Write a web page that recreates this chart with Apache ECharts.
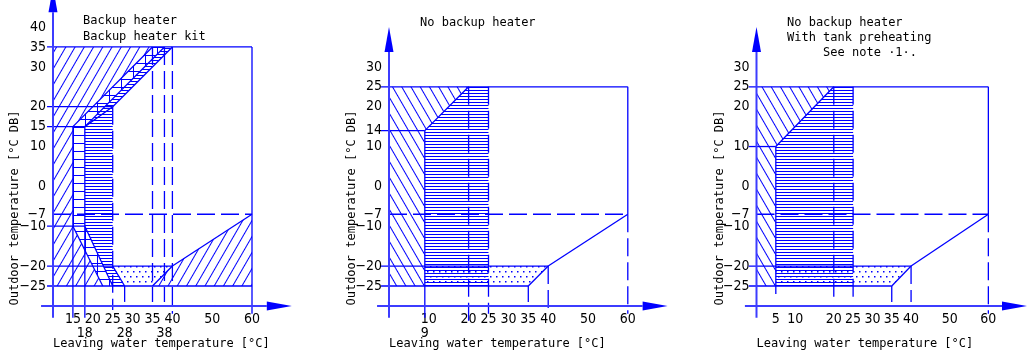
<!DOCTYPE html>
<html>
<head>
<meta charset="utf-8">
<script src="https://cdn.jsdelivr.net/npm/echarts@6/dist/echarts.min.js"></script>
<style>
  html, body { margin: 0; padding: 0; background: #fff; }
  #chart { width: 1027px; height: 355px; }
</style>
</head>
<body>
<div id="chart"></div>
<script>
// ---------------- operating range data (leaving water °C, outdoor °C) ----------------

// Panel 1: backup heater / backup heater kit
const bhYTicks = [40, 35, 30, 20, 15, 10, 0, -7, -10, -20, -25];
const bhXTicks = [15, 20, 25, 30, 35, 40, 50, 60];
const bhXTicks2 = [18, 28, 38];
const bhAxes = [[7, -30, 70, -30], [10, -33, 10, 50]];
const bhHatch = [[10, -25], [10, 35], [35, 35], [15, 15], [15, -10], [22.5, -25]];
const bhHatch2 = [[35, -25], [40, -20], [60, -7], [60, -25]];
const bhGrid = [[22.5, -25], [15, -10], [15, 15], [35, 35], [38, 35], [18, 15], [18, -10], [25, -25]];
const bhLined = [[25, -25], [18, -10], [18, 15], [38, 35], [40, 35], [25, 20], [25, -20], [28, -25]];
const bhDotted = [[25, -20], [40, -20], [35, -25], [28, -25]];
const bhSolid = [
  [8.5, 35, 60, 35], [60, 35, 60, -32], [8.5, -25, 60, -25], [8.5, -20, 40, -20],
  [8.5, 20, 25, 20], [8.5, 15, 18, 15], [8.5, -10, 18, -10],
  [15, 15, 15, -33], [18, 15, 18, -33], [15, -10, 22.5, -25], [18, -10, 25, -25],
  [15, 15, 35, 35], [18, 15, 25, 20], [25, 20, 40, 35], [18, 15, 38, 35],
  [25, -20, 28, -25], [28, -25, 28, -29], [35, -25, 40, -20], [40, -20, 60, -7]
];
const bhDashed = [[10, -7, 60, -7], [25, 20, 25, -31], [35, 35, 35, -29], [38, 35, 38, -29], [40, 35, 40, -32]];

// Panel 2: no backup heater
const nbYTicks = [30, 25, 20, 14, 10, 0, -7, -10, -20, -25];
const nbXTicks = [10, 20, 25, 30, 35, 40, 50, 60];
const nbXTicks2 = [9];
const nbAxes = [[-3, -30, 70, -30], [0, -33, 0, 40]];
const nbHatch = [[0, -25], [0, 25], [20, 25], [9, 14], [9, -25]];
const nbLined = [[9, -25], [9, 14], [20, 25], [25, 25], [25, -25]];
const nbDotted = [[9, -20], [40, -20], [35, -25], [9, -25]];
const nbSolid = [
  [-2, 25, 60, 25], [60, 25, 60, -7], [60, -7, 40, -20], [40, -20, 35, -25],
  [-2, -20, 40, -20], [-2, -25, 35, -25], [-2, 14, 9, 14], [9, 14, 9, -33],
  [9, 14, 20, 25], [35, -25, 35, -29]
];
const nbDashed = [[0, -7, 60, -7], [20, 25, 20, -34], [25, 25, 25, -32], [40, -20, 40, -32], [60, -7, 60, -32]];

// Panel 3: no backup heater, with tank preheating
const tpYTicks = [30, 25, 20, 10, 0, -7, -10, -20, -25];
const tpXTicks = [5, 10, 20, 25, 30, 35, 40, 50, 60];
const tpAxes = [[-3, -30, 70, -30], [0, -33, 0, 40]];
const tpHatch = [[0, -25], [0, 25], [20, 25], [5, 10], [5, -25]];
const tpLined = [[5, -25], [5, 10], [20, 25], [25, 25], [25, -25]];
const tpDotted = [[5, -20], [40, -20], [35, -25], [5, -25]];
const tpSolid = [
  [-2, 25, 60, 25], [60, 25, 60, -7], [60, -7, 40, -20], [40, -20, 35, -25],
  [-2, -20, 40, -20], [-2, -25, 35, -25], [-2, 10, 5, 10], [5, 10, 5, -27],
  [5, 10, 20, 25], [35, -25, 35, -29]
];
const tpDashed = [[0, -7, 60, -7], [20, 25, 20, -29], [25, 25, 25, -29], [40, -20, 40, -29], [60, -7, 60, -32]];

const xTitle = 'Leaving water temperature [°C]';
const yTitle = 'Outdoor temperature [°C DB]';
const bhCaption = ['Backup heater', 'Backup heater kit'];
const nbCaption = ['No backup heater'];
const tpCaption = ['No backup heater', 'With tank preheating', '     See note ·1·.'];

// ---------------- styling ----------------
const BLUE = '#0000ff';
const AXIS_BLUE = '#3c3cff';
const NARROW = '"Liberation Sans Narrow", "DejaVu Sans Condensed", "Liberation Sans", sans-serif';
const MONO = '"DejaVu Sans Mono", "Liberation Mono", monospace';

function tile(w, h, paint) {
  const c = document.createElement('canvas');
  c.width = w; c.height = h;
  const g = c.getContext('2d');
  g.fillStyle = BLUE;
  paint(g);
  return c;
}
const stripeTile = tile(8, 8, g => g.fillRect(0, 0, 1, 8));
const slashFill = { image: stripeTile, repeat: 'repeat', rotation: Math.PI / 6 };
const backFill = { image: stripeTile, repeat: 'repeat', rotation: -Math.PI / 6 };
const lineFill = { image: tile(4, 3, g => g.fillRect(0, 0, 4, 1)), repeat: 'repeat' };
const dotFill = {
  image: tile(12, 10, g => {
    g.fillRect(1, 1, 1.5, 1.5); g.fillRect(7, 1, 1.5, 1.5);
    g.fillRect(4, 6, 1.5, 1.5); g.fillRect(10, 6, 1.5, 1.5);
  }),
  repeat: 'repeat'
};
const gridFill = {
  image: tile(12, 8, g => { g.fillRect(0, 0, 12, 1); g.fillRect(0, 0, 1, 8); }),
  repeat: 'repeat', x: 1, y: 7
};

const fmt = v => String(v).replace('-', '\u2212');

// ---------------- series builders ----------------
function polySeries(gi, pts, fill) {
  return {
    type: 'custom', xAxisIndex: gi, yAxisIndex: gi, data: pts, silent: true, animation: false,
    renderItem(p, api) {
      if (p.dataIndexInside !== 0) return null;
      const points = [];
      for (let i = 0; i < p.dataInsideLength; i++) {
        points.push(api.coord([api.value(0, i), api.value(1, i)]));
      }
      return { type: 'polygon', shape: { points }, style: { fill, stroke: null } };
    }
  };
}
function segSeries(gi, segs, dash, width) {
  return {
    type: 'custom', xAxisIndex: gi, yAxisIndex: gi, data: segs, silent: true, animation: false,
    renderItem(p, api) {
      const a = api.coord([api.value(0), api.value(1)]);
      const b = api.coord([api.value(2), api.value(3)]);
      return {
        type: 'line', shape: { x1: a[0], y1: a[1], x2: b[0], y2: b[1] },
        style: { stroke: BLUE, lineWidth: width, lineDash: dash }
      };
    }
  };
}
function axisSeries(gi, segs) {
  return {
    type: 'custom', xAxisIndex: gi, yAxisIndex: gi, data: segs, silent: true, animation: false,
    renderItem(p, api) {
      const a = api.coord([api.value(0), api.value(1)]);
      const b = api.coord([api.value(2), api.value(3)]);
      const dx = b[0] - a[0], dy = b[1] - a[1], len = Math.hypot(dx, dy);
      const ux = dx / len, uy = dy / len, L = 25, W = 4.5;
      const bx = b[0] - ux * L, by = b[1] - uy * L;
      return {
        type: 'group', children: [
          { type: 'line', shape: { x1: a[0], y1: a[1], x2: bx, y2: by }, style: { stroke: AXIS_BLUE, lineWidth: 2 } },
          { type: 'polygon', shape: { points: [[b[0], b[1]], [bx - uy * W, by + ux * W], [bx + uy * W, by - ux * W]] },
            style: { fill: BLUE } }
        ]
      };
    }
  };
}

// ---------------- axes ----------------
const Y_MIN = -30, Y_MAX = 45;
const gridTop = 7.1, gridH = 298.8, unit = 3.98;
const grids = [
  { left: 53, top: gridTop, width: 60 * unit, height: gridH },
  { left: 389, top: gridTop, width: 70 * unit, height: gridH },
  { left: 756.5, top: gridTop, width: 70 * unit, height: gridH }
];
const labelStyle = { color: '#000', fontFamily: NARROW, fontSize: 14, formatter: fmt };
function xAxisFor(gi, min, vals, margin) {
  return {
    type: 'value', gridIndex: gi, min, max: 70, position: 'bottom',
    axisLine: { show: false }, axisTick: { show: false }, splitLine: { show: false },
    axisLabel: Object.assign({ customValues: vals, margin, showMinLabel: true, showMaxLabel: true }, labelStyle)
  };
}
function yAxisFor(gi, vals) {
  return {
    type: 'value', gridIndex: gi, min: Y_MIN, max: Y_MAX,
    axisLine: { show: false }, axisTick: { show: false }, splitLine: { show: false },
    axisLabel: Object.assign({ customValues: vals, margin: 7 }, labelStyle)
  };
}

// ---------------- captions and axis titles ----------------
function textEl(x, y, text, extra) {
  return Object.assign({
    type: 'text', x, y, silent: true,
    style: Object.assign({ text, font: '12px ' + MONO, fill: '#000', verticalAlign: 'middle' }, (extra || {}).style)
  }, extra ? { rotation: extra.rotation || 0 } : {});
}
const graphics = [];
bhCaption.forEach((t, i) => graphics.push(textEl(83, 21 + i * 16, t)));
nbCaption.forEach((t, i) => graphics.push(textEl(420, 23 + i * 15, t)));
tpCaption.forEach((t, i) => graphics.push(textEl(787, 23 + i * 15, t)));
[53, 389, 756.5].forEach(x => graphics.push(textEl(x, 344, xTitle)));
[15, 352, 720].forEach(x => graphics.push(textEl(x, 208, yTitle, { rotation: Math.PI / 2, style: { align: 'center' } })));

const chart = echarts.init(document.getElementById('chart'), null, { renderer: 'canvas' });
chart.setOption({
  animation: false,
  backgroundColor: '#fff',
  grid: grids,
  xAxis: [
    xAxisFor(0, 10, bhXTicks, 6), xAxisFor(1, 0, nbXTicks, 6), xAxisFor(2, 0, tpXTicks, 6),
    xAxisFor(0, 10, bhXTicks2, 20), xAxisFor(1, 0, nbXTicks2, 20)
  ],
  yAxis: [yAxisFor(0, bhYTicks), yAxisFor(1, nbYTicks), yAxisFor(2, tpYTicks)],
  graphic: graphics,
  series: [
    polySeries(0, bhHatch, slashFill), polySeries(0, bhHatch2, slashFill),
    polySeries(0, bhLined, lineFill), polySeries(0, bhDotted, dotFill), polySeries(0, bhGrid, gridFill),
    segSeries(0, bhSolid, null, 1.3), segSeries(0, bhDashed, [18, 6], 1.3), axisSeries(0, bhAxes),

    polySeries(1, nbHatch, backFill), polySeries(1, nbLined, lineFill), polySeries(1, nbDotted, dotFill),
    segSeries(1, nbSolid, null, 1.3), segSeries(1, nbDashed, [18, 6], 1.3), axisSeries(1, nbAxes),

    polySeries(2, tpHatch, backFill), polySeries(2, tpLined, lineFill), polySeries(2, tpDotted, dotFill),
    segSeries(2, tpSolid, null, 1.3), segSeries(2, tpDashed, [18, 6], 1.3), axisSeries(2, tpAxes)
  ]
});
</script>
</body>
</html>
